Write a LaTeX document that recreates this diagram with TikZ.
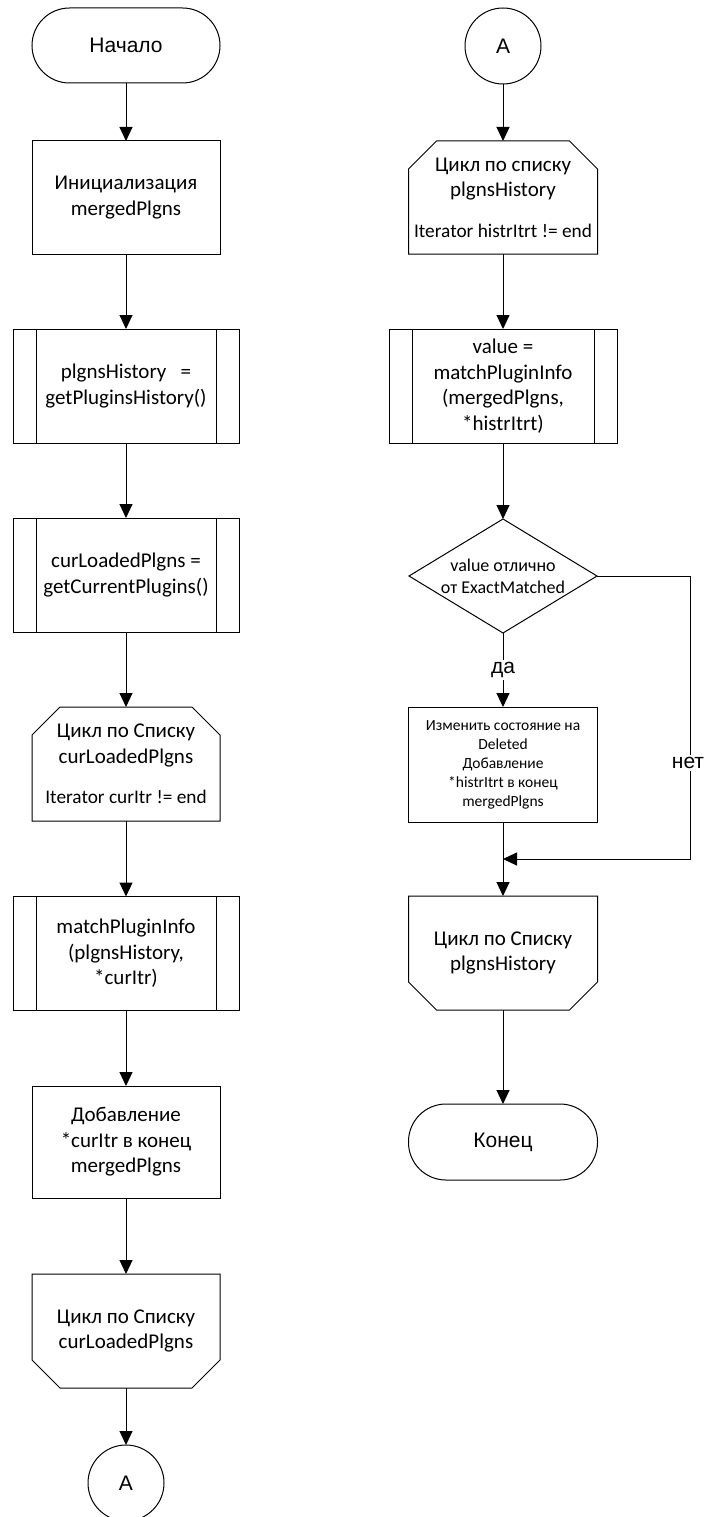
\documentclass[tikz,border=0pt]{standalone}
\usepackage{fontspec}
\setmainfont{Carlito}
\newfontfamily\arialfont{Liberation Sans}
\usetikzlibrary{arrows.meta,calc}

% chamfered outlines for loop limits (drawn around plain rectangle nodes)
\newcommand\looptopframe[1]{%
  \draw[line width=1pt] ($(#1.north west)+(0,28)$) -- ($(#1.north west)+(28,0)$)
    -- ($(#1.north east)+(-28,0)$) -- ($(#1.north east)+(0,28)$)
    -- (#1.south east) -- (#1.south west) -- cycle;}
\newcommand\loopbottomframe[1]{%
  \draw[line width=1pt] (#1.north west) -- (#1.north east)
    -- ($(#1.south east)+(0,-28)$) -- ($(#1.south east)+(-28,0)$)
    -- ($(#1.south west)+(28,0)$) -- ($(#1.south west)+(0,-28)$) -- cycle;}
\newcommand\condline[1]{{\fontsize{19.3}{23}\selectfont #1}}

\begin{document}
\begin{tikzpicture}[x=1pt,y=-1pt,
  base/.style={outer sep=0pt, inner sep=2pt, align=center,
    font=\fontsize{21}{25.5}\selectfont, line width=1pt},
  proc/.style={base, rectangle, draw, minimum width=188pt, minimum height=113pt},
  subproc/.style={base, rectangle, draw, minimum width=226pt, minimum height=114pt,
    path picture={
      \draw[line width=1pt] ([xshift=23pt]path picture bounding box.north west)
        -- ([xshift=23pt]path picture bounding box.south west);
      \draw[line width=1pt] ([xshift=-23pt]path picture bounding box.north east)
        -- ([xshift=-23pt]path picture bounding box.south east);}},
  frame/.style={base, rectangle, minimum width=188pt, minimum height=114pt},
  terminal/.style={base, rectangle, draw, rounded corners=37.5pt,
    minimum width=188pt, minimum height=75pt,
    font=\arialfont\fontsize{21}{24}\selectfont},
  conn/.style={base, circle, draw, minimum size=76pt, inner sep=0pt,
    font=\arialfont\fontsize{21}{24}\selectfont},
  arr/.style={line width=1pt, -{Triangle[width=13pt,length=14pt]}},
  lbl/.style={fill=white, inner sep=2pt, outer sep=0pt,
    font=\arialfont\fontsize{21}{24}\selectfont}
]
\path[use as bounding box, fill=white] (0,0) rectangle (709,1517);

% ---- left column ----
\node[terminal] (start) at (126,45.5) {Начало};
\node[proc] (init) at (126,197.5) {Инициализация\\mergedPlgns};
\node[subproc] (hist) at (126,386) {plgnsHistory\ \ \ =\\getPluginsHistory()};
\node[subproc] (cur) at (126,575) {curLoadedPlgns =\\getCurrentPlugins()};
\node[frame] (loopA) at (126,764) {Цикл по Списку\\curLoadedPlgns\\[15pt]\condline{Iterator curItr != end}};
\looptopframe{loopA}
\node[subproc] (match) at (126,953.5) {matchPluginInfo\\(plgnsHistory,\\*curItr)};
\node[proc, minimum height=112pt] (add) at (126,1142) {Добавление\\ *curItr в конец\\mergedPlgns};
\node[frame] (endA) at (126,1331) {Цикл по Списку\\curLoadedPlgns};
\loopbottomframe{endA}
\node[conn] (outA) at (126,1483) {A};

% ---- right column ----
\node[conn] (inA) at (503,46) {A};
\node[frame, minimum width=189pt, minimum height=113pt] (loopB) at (503,197.5) {Цикл по списку\\plgnsHistory\\[15pt]\condline{Iterator histrItrt != end}};
\looptopframe{loopB}
\node[subproc, minimum width=228pt] (val) at (503,386) {value =\\matchPluginInfo\\(mergedPlgns,\\*histrItrt)};
\node[frame, minimum width=188pt, minimum height=114pt,
  font=\fontsize{18}{22}\selectfont] (dec) at (503,576) {value отлично\\от ExactMatched};
\draw[line width=1pt] (dec.north) -- (dec.east) -- (dec.south) -- (dec.west) -- cycle;
\node[proc, minimum width=189pt, minimum height=115pt,
  font=\fontsize{15.5}{19}\selectfont] (mark) at (503,764.5)
  {Изменить состояние на\\Deleted\\Добавление\\ *histrItrt в конец\\mergedPlgns};
\node[frame, minimum width=189pt] (endB) at (503,953) {Цикл по Списку\\plgnsHistory};
\loopbottomframe{endB}
\node[terminal, minimum width=189pt, minimum height=76pt] (stop) at (503,1142) {Конец};

\coordinate (merge) at (503,859);

% ---- connectors ----
\draw[arr] (start) -- (init);
\draw[arr] (init) -- (hist);
\draw[arr] (hist) -- (cur);
\draw[arr] (cur) -- (loopA);
\draw[arr] (loopA) -- (match);
\draw[arr] (match) -- (add);
\draw[arr] (add) -- (endA);
\draw[arr] (endA) -- (outA);

\draw[arr] (inA) -- (loopB);
\draw[arr] (loopB) -- (val);
\draw[arr] (val) -- (dec);
\draw[arr] (dec.south) -- (mark);
\draw[arr] (mark) -- (endB);
\draw[arr] (endB) -- (stop);
\draw[arr] (dec.east) -- ++(93,0) |- (merge);

\node[lbl] (yes) at (503,670) {да};
\node[lbl] (no) at (688,763) {нет};
\end{tikzpicture}
\end{document}
